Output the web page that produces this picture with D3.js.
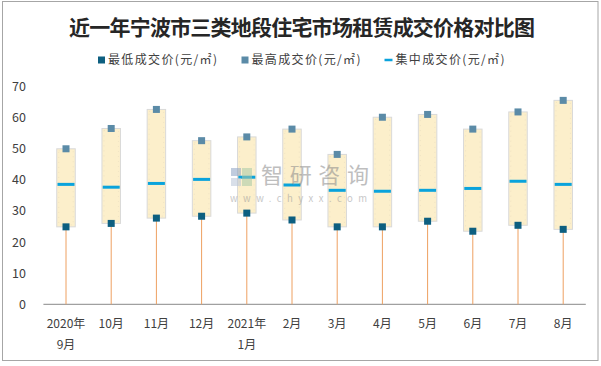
<!DOCTYPE html>
<html>
<head>
<meta charset="utf-8">
<script src="https://cdn.jsdelivr.net/npm/d3@7"></script>
<style>
  html, body { margin: 0; padding: 0; background: #fff; }
  svg { display: block; }
</style>
</head>
<body>
<svg id="chart" width="601" height="366"></svg>
<script>
const categories = ["2020年\n9月", "10月", "11月", "12月", "2021年\n1月", "2月", "3月", "4月", "5月", "6月", "7月", "8月"];
const minValues = [24.8, 25.9, 27.6, 28.2, 29.2, 27.0, 24.8, 24.8, 26.6, 23.4, 25.3, 24.0];
const maxValues = [49.8, 56.3, 62.4, 52.4, 53.6, 56.1, 48.0, 59.9, 60.8, 56.1, 61.6, 65.3];
const midValues = [38.4, 37.5, 38.7, 40.0, 40.7, 38.2, 36.5, 36.2, 36.5, 37.1, 39.4, 38.4];
const yTicks = [0, 10, 20, 30, 40, 50, 60, 70];
const seriesNames = ["最低成交价(元/㎡)", "最高成交价(元/㎡)", "集中成交价(元/㎡)"];
const titleText = "近一年宁波市三类地段住宅市场租赁成交价格对比图";

const colMin = "#0d5f80", colMax = "#5b8ba7", colMid = "#0aa3dc";
const svg = d3.select("#chart");
const font = "'Noto Sans CJK SC', 'Microsoft YaHei', sans-serif";

// outer border
svg.append("rect").attr("x", 2.5).attr("y", 1.5).attr("width", 595.5).attr("height", 359)
  .attr("fill", "#fff").attr("stroke", "#a6a6a6").attr("stroke-width", 1);

// title
svg.append("text").attr("x", 69).attr("y", 35)
  .attr("font-family", "'Noto Sans CJK SC', serif").attr("font-weight", "bold")
  .attr("font-size", 21).attr("textLength", 466).attr("lengthAdjust", "spacing")
  .attr("fill", "#262626").text(titleText);

const x = d3.scaleBand().domain(categories).range([43.4, 585.8]);
const y = d3.scaleLinear().domain([0, 70]).range([304.3, 85.7]);

// y tick labels
const yAxis = d3.axisLeft(y).tickValues(yTicks).tickSize(0).tickPadding(0).tickFormat(d3.format("d"));
const gy = svg.append("g").attr("transform", "translate(26,0)").call(yAxis);
gy.select(".domain").remove();
gy.selectAll("text").attr("font-family", font).attr("font-size", 12.5).attr("fill", "#404040").attr("dy", "0.35em");

// x axis
const xAxis = d3.axisBottom(x).tickSize(0).tickFormat("");
const gx = svg.append("g").attr("transform", `translate(0,${y(0)})`).call(xAxis);
gx.select(".domain").attr("stroke", "#a0a0a0").attr("stroke-width", 1.2).attr("d", `M${x.range()[0]},0H${x.range()[1]}`);
gx.selectAll(".tick").each(function(d) {
  const t = d3.select(this).append("text").attr("text-anchor", "middle")
    .attr("font-family", font).attr("font-size", 12).attr("fill", "#404040");
  d.split("\n").forEach((line, i) => {
    t.append("tspan").attr("x", 0).attr("y", 24 + i * 21).text(line);
  });
});

const cx = d => x(d) + x.bandwidth() / 2;
const boxW = 18.5;

const g = svg.append("g");
// drop lines from min to axis
g.selectAll(".drop").data(categories).join("line")
  .attr("x1", d => cx(d)).attr("x2", d => cx(d))
  .attr("y1", (d, i) => y(minValues[i])).attr("y2", y(0))
  .attr("stroke", "#eea061").attr("stroke-width", 1);

// boxes
g.selectAll(".box").data(categories).join("rect")
  .attr("x", d => cx(d) - boxW / 2)
  .attr("y", (d, i) => y(maxValues[i]))
  .attr("width", boxW)
  .attr("height", (d, i) => y(minValues[i]) - y(maxValues[i]))
  .attr("fill", "#fcefcb").attr("stroke", "#d9d9d9").attr("stroke-width", 1);
// dotted inner edges
g.selectAll(".dots").data(categories).join("rect")
  .attr("x", d => cx(d) - boxW / 2 + 2)
  .attr("y", (d, i) => y(maxValues[i]) + 2)
  .attr("width", boxW - 4)
  .attr("height", (d, i) => y(minValues[i]) - y(maxValues[i]) - 4)
  .attr("fill", "none").attr("stroke", "#e8dcc0").attr("stroke-width", 0.6).attr("stroke-dasharray", "1,4");

// median lines
g.selectAll(".mid").data(categories).join("line")
  .attr("x1", d => cx(d) - 8.5).attr("x2", d => cx(d) + 8.5)
  .attr("y1", (d, i) => y(midValues[i])).attr("y2", (d, i) => y(midValues[i]))
  .attr("stroke", colMid).attr("stroke-width", 3);

// markers
const ms = 7;
g.selectAll(".mmax").data(categories).join("rect")
  .attr("x", d => cx(d) - ms / 2).attr("y", (d, i) => y(maxValues[i]) - ms / 2)
  .attr("width", ms).attr("height", ms).attr("fill", colMax);
g.selectAll(".mmin").data(categories).join("rect")
  .attr("x", d => cx(d) - ms / 2).attr("y", (d, i) => y(minValues[i]) - ms / 2)
  .attr("width", ms).attr("height", ms).attr("fill", colMin);

// watermark
const wm = svg.append("g").attr("opacity", 0.55);
wm.append("rect").attr("x", 231).attr("y", 168).attr("width", 10).attr("height", 8).attr("fill", "#8da3c4");
wm.append("rect").attr("x", 231).attr("y", 178).attr("width", 10).attr("height", 8).attr("fill", "#b9c6d8");
wm.append("rect").attr("x", 242).attr("y", 168).attr("width", 10).attr("height", 18).attr("fill", "#a8c9a8");
wm.append("text").attr("x", 261).attr("y", 183).attr("font-family", font).attr("font-size", 22)
  .attr("textLength", 108).attr("lengthAdjust", "spacing").attr("fill", "#8a8a8a").text("智研咨询");
wm.append("text").attr("x", 230).attr("y", 202).attr("font-family", font).attr("font-size", 9.5)
  .attr("textLength", 137).attr("lengthAdjust", "spacing").attr("fill", "#9a9a9a").text("www.chyxx.com");

// legend
const leg = svg.append("g").attr("font-family", font).attr("font-size", 12).attr("fill", "#404040");
const legX = [98, 241.5, 384.5];
const legY = 60;
seriesNames.forEach((name, i) => {
  const lg = leg.append("g").attr("transform", `translate(${legX[i]},${legY})`);
  if (i < 2) {
    lg.append("rect").attr("x", 0).attr("y", -3.5).attr("width", 7).attr("height", 7).attr("fill", i === 0 ? colMin : colMax);
  } else {
    lg.append("line").attr("x1", 0).attr("x2", 8).attr("y1", 0).attr("y2", 0).attr("stroke", colMid).attr("stroke-width", 2.5);
  }
  lg.append("text").attr("x", i < 2 ? 10 : 11).attr("y", 0).attr("dy", "0.35em")
    .attr("textLength", 109).attr("lengthAdjust", "spacing").text(name);
});
</script>
</body>
</html>
